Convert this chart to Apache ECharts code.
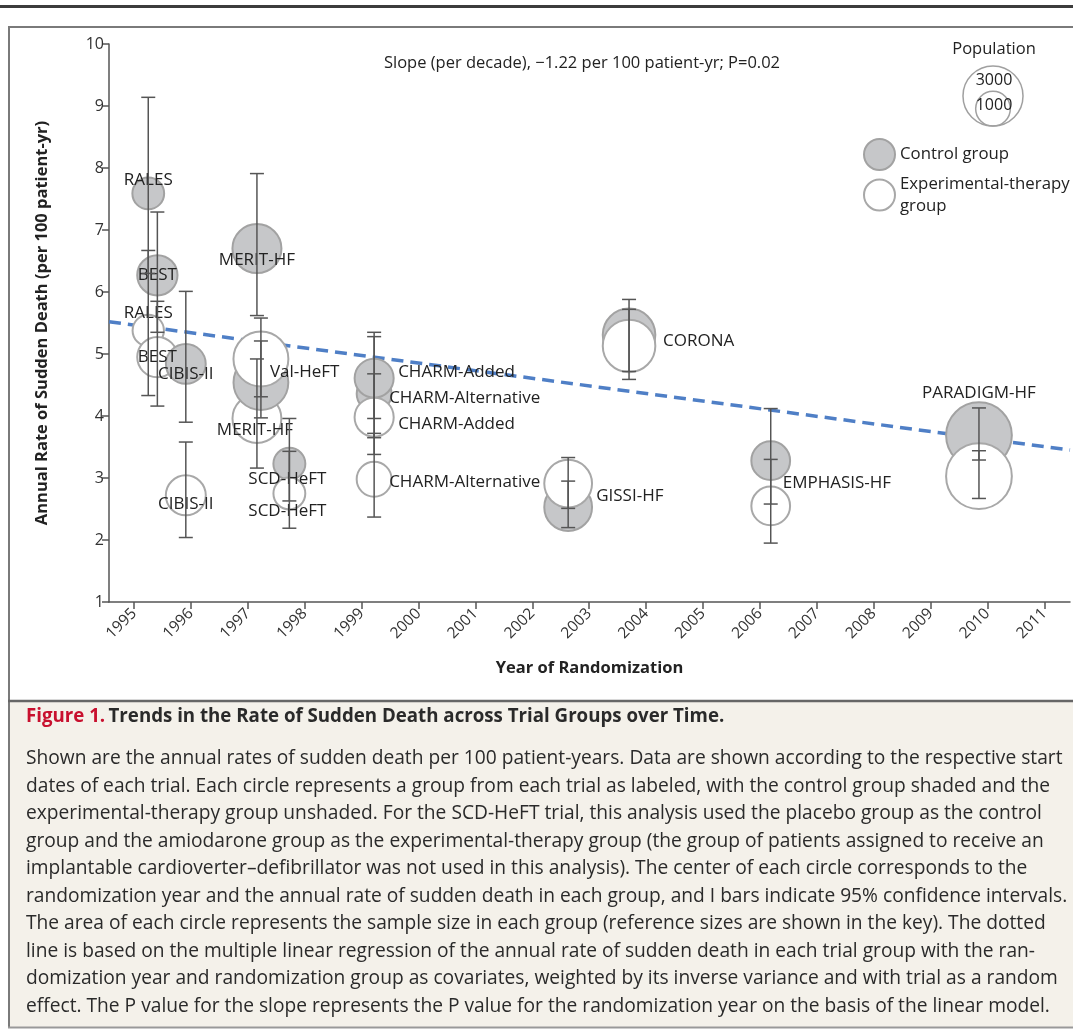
<!DOCTYPE html>
<html>
<head>
<meta charset="utf-8">
<script src="https://cdn.jsdelivr.net/npm/echarts@6.0.0/dist/echarts.min.js"></script>
<style>
html, body { margin: 0; padding: 0; background: #fff; }
#chart { width: 1073px; height: 1030px; }
</style>
</head>
<body>
<div id="chart"></div>
<script>
// trial groups, in drawing order
const trials = ['RALES', 'BEST', 'CIBIS-II', 'MERIT-HF', 'Val-HeFT', 'SCD-HeFT',
    'CHARM-Alternative', 'CHARM-Added', 'GISSI-HF', 'CORONA', 'EMPHASIS-HF', 'PARADIGM-HF'];
const years = [1995.25, 1995.41, 1995.91, 1997.16, 1997.23, 1997.73,
    1999.22, 1999.22, 2002.63, 2003.70, 2006.19, 2009.85];

// control group: rate, 95% CI, sample size
const controlRate = [7.59, 6.27, 4.84, 6.70, 4.54, 3.23, 4.36, 4.61, 2.53, 5.31, 3.28, 3.69];
const controlLow  = [6.30, 5.35, 3.90, 5.62, 3.97, 2.63, 3.65, 3.96, 2.20, 4.72, 2.58, 3.29];
const controlHigh = [9.14, 7.29, 6.01, 7.91, 5.21, 3.96, 5.28, 5.35, 2.95, 5.88, 4.12, 4.13];
const controlN    = [840, 1350, 1320, 2000, 2500, 850, 1015, 1270, 1900, 2300, 1250, 3600];

// experimental-therapy group
const expRate = [5.38, 4.95, 2.72, 3.96, 4.92, 2.75, 2.98, 3.98, 2.91, 5.13, 2.55, 3.03];
const expLow  = [4.33, 4.16, 2.04, 3.16, 4.31, 2.19, 2.37, 3.38, 2.51, 4.59, 1.95, 2.67];
const expHigh = [6.67, 5.85, 3.58, 4.92, 5.58, 3.43, 3.72, 4.68, 3.33, 5.72, 3.30, 3.44];
const expN    = [820, 1350, 1330, 1990, 2510, 845, 1015, 1275, 1900, 2300, 1250, 3600];

// weighted regression line (end points)
const trendYears = [1994.56, 2011.45];
const trendRates = [5.52, 3.45];

const yearTicks = [1995, 1996, 1997, 1998, 1999, 2000, 2001, 2002, 2003,
    2004, 2005, 2006, 2007, 2008, 2009, 2010, 2011];
const popKey = [3000, 1000];

// label placement [dx, dy, align]; null = no label
const ctrlLabel = [[0, -13, 'center'], [0, 0, 'center'], [0, 10, 'center'], [0, 12, 'center'],
    [9, -10, 'left'], [-2, 15, 'center'], [15, 4, 'left'], [24, -6, 'left'],
    [28, -11, 'left'], [34, 6, 'left'], [12, 23, 'left'], [0, -42, 'center']];
const expLabel = [[0, -17, 'center'], [0, 0, 'center'], [0, 9, 'center'], [-2, 12, 'center'],
    null, [-2, 18, 'center'], [15, 3, 'left'], [24, 7, 'left'], null, null, null, null];

const captionLines = [
    'Shown are the annual rates of sudden death per 100 patient-years. Data are shown according to the respective start',
    'dates of each trial. Each circle represents a group from each trial as labeled, with the control group shaded and the',
    'experimental-therapy group unshaded. For the SCD-HeFT trial, this analysis used the placebo group as the control',
    'group and the amiodarone group as the experimental-therapy group (the group of patients assigned to receive an',
    'implantable cardioverter\u2013defibrillator was not used in this analysis). The center of each circle corresponds to the',
    'randomization year and the annual rate of sudden death in each group, and I bars indicate 95% confidence intervals.',
    'The area of each circle represents the sample size in each group (reference sizes are shown in the key). The dotted',
    'line is based on the multiple linear regression of the annual rate of sudden death in each trial group with the ran-',
    'domization year and randomization group as covariates, weighted by its inverse variance and with trial as a random',
    'effect. The P value for the slope represents the P value for the randomization year on the basis of the linear model.'
];

const FONT = '"Open Sans", "Noto Sans", sans-serif';
const CTRL = 'Control group';
const EXP = 'Experimental-therapy group';

// circle area proportional to sample size
function diam(n) { return 1.096 * Math.sqrt(n); }

function groupSeries(name, i, rate, n, lab, fill, border) {
    return {
        type: 'scatter',
        name: name,
        z: 2,
        symbolSize: d => diam(d[2]),
        itemStyle: { color: fill, borderColor: border, borderWidth: 2, opacity: 1 },
        emphasis: { disabled: true },
        label: lab ? {
            show: true,
            position: 'inside',
            align: lab[2],
            offset: [lab[0], lab[1]],
            formatter: trials[i],
            color: '#222',
            fontFamily: FONT,
            fontSize: 17
        } : { show: false },
        data: [[years[i], rate, n]]
    };
}

function renderBar(params, api) {
    const x = api.value(0);
    const lo = api.coord([x, api.value(1)]);
    const hi = api.coord([x, api.value(2)]);
    const cap = 7;
    const style = { stroke: '#555', lineWidth: 1.5 };
    return {
        type: 'group',
        children: [
            { type: 'line', shape: { x1: lo[0], y1: lo[1], x2: hi[0], y2: hi[1] }, style: style },
            { type: 'line', shape: { x1: lo[0] - cap, y1: lo[1], x2: lo[0] + cap, y2: lo[1] }, style: style },
            { type: 'line', shape: { x1: hi[0] - cap, y1: hi[1], x2: hi[0] + cap, y2: hi[1] }, style: style }
        ]
    };
}

const series = [{
    type: 'line',
    z: 1,
    symbol: 'none',
    silent: true,
    lineStyle: { color: '#4f7fc6', width: 3.5, type: [12, 7] },
    data: trendYears.map((y, i) => [y, trendRates[i]])
}];
trials.forEach((t, i) => {
    series.push(groupSeries(CTRL, i, controlRate[i], controlN[i], ctrlLabel[i], '#c6c7c9', '#a2a2a2'));
    series.push(groupSeries(EXP, i, expRate[i], expN[i], expLabel[i], '#ffffff', '#a8a8a8'));
});
const bars = [];
trials.forEach((t, i) => {
    bars.push([years[i], controlLow[i], controlHigh[i]]);
    bars.push([years[i], expLow[i], expHigh[i]]);
});
series.push({
    type: 'custom',
    z: 5,
    silent: true,
    renderItem: renderBar,
    encode: { x: 0, y: [1, 2] },
    data: bars
});

// population key circles (bottom aligned)
const keyCx = 993, keyBottom = 126;
const keyGraphics = [];
popKey.forEach(n => {
    const r = diam(n) / 2;
    keyGraphics.push({
        type: 'circle', shape: { cx: keyCx, cy: keyBottom - r, r: r },
        style: { fill: 'none', stroke: '#a0a0a0', lineWidth: 1.5 }
    });
});

const myChart = echarts.init(document.getElementById('chart'), null, { renderer: 'canvas' });
const option = {
    animation: false,
    backgroundColor: '#fff',
    grid: { left: 109, right: 3, top: 44, bottom: 428, containLabel: false },
    xAxis: {
        type: 'value',
        min: 1994.56,
        max: 2011.45,
        name: 'Year of Randomization',
        nameLocation: 'middle',
        nameGap: 58,
        nameTextStyle: { fontFamily: FONT, fontWeight: 'bold', fontSize: 16.5, color: '#222' },
        axisLine: { lineStyle: { color: '#555', width: 1.5 } },
        axisTick: { customValues: yearTicks, length: 7, lineStyle: { color: '#555', width: 1.5 } },
        axisLabel: {
            customValues: yearTicks, rotate: 45, margin: 9,
            fontFamily: FONT, fontSize: 15.5, color: '#333',
            formatter: v => String(v)
        },
        splitLine: { show: false }
    },
    yAxis: {
        type: 'value',
        min: 1,
        max: 10,
        interval: 1,
        name: 'Annual Rate of Sudden Death (per 100 patient-yr)',
        nameLocation: 'middle',
        nameGap: 58,
        nameTextStyle: { fontFamily: FONT, fontWeight: 'bold', fontSize: 16.5, color: '#222' },
        axisLine: { show: true, lineStyle: { color: '#555', width: 1.5 } },
        axisTick: { show: true, length: 7, lineStyle: { color: '#555', width: 1.5 } },
        axisLabel: { margin: 5, fontFamily: FONT, fontSize: 16, color: '#333' },
        splitLine: { show: false }
    },
    legend: {
        data: [CTRL, EXP],
        orient: 'vertical',
        left: 858,
        top: 133,
        icon: 'circle',
        itemWidth: 31,
        itemHeight: 31,
        itemGap: 2,
        selectedMode: false,
        formatter: n => n === EXP ? 'Experimental-therapy\ngroup' : n,
        textStyle: { fontFamily: FONT, fontSize: 16.8, color: '#222', lineHeight: 22 }
    },
    graphic: [
        { type: 'rect', shape: { x: 0, y: 5, width: 1073, height: 3 }, style: { fill: '#3c3c3c' } },
        { type: 'line', shape: { x1: 8, y1: 27, x2: 1073, y2: 27 }, style: { stroke: '#7a7a7a', lineWidth: 2 } },
        { type: 'line', shape: { x1: 9, y1: 26, x2: 9, y2: 1028 }, style: { stroke: '#7a7a7a', lineWidth: 2 } },
        { type: 'rect', shape: { x: 10, y: 701, width: 1063, height: 326 }, style: { fill: '#f4f1ea' } },
        { type: 'line', shape: { x1: 8, y1: 701, x2: 1073, y2: 701 }, style: { stroke: '#666', lineWidth: 2.5 } },
        { type: 'line', shape: { x1: 8, y1: 1027.5, x2: 1073, y2: 1027.5 }, style: { stroke: '#999', lineWidth: 2 } },
        {
            type: 'text', x: 582, y: 63,
            style: {
                text: 'Slope (per decade), \u22121.22 per 100 patient-yr; P=0.02',
                fontFamily: FONT, fontSize: 16.5, fill: '#222', align: 'center', verticalAlign: 'middle'
            }
        },
        {
            type: 'text', x: 994, y: 49,
            style: { text: 'Population', fontFamily: FONT, fontSize: 16.5, fill: '#222', align: 'center', verticalAlign: 'middle' }
        },
        ...keyGraphics,
        {
            type: 'text', x: 994, y: 80,
            style: { text: String(popKey[0]), fontFamily: FONT, fontSize: 16, fill: '#222', align: 'center', verticalAlign: 'middle' }
        },
        {
            type: 'text', x: 994, y: 105,
            style: { text: String(popKey[1]), fontFamily: FONT, fontSize: 16, fill: '#222', align: 'center', verticalAlign: 'middle' }
        },
        {
            type: 'text', x: 26, y: 717,
            style: {
                text: '{r|Figure 1.} {b|Trends in the Rate of Sudden Death across Trial Groups over Time.}',
                verticalAlign: 'middle',
                rich: {
                    r: { fontFamily: FONT, fontWeight: 'bold', fontSize: 18.7, fill: '#c8102e' },
                    b: { fontFamily: FONT, fontWeight: 'bold', fontSize: 18.7, fill: '#2a2a2a' }
                }
            }
        },
        {
            type: 'text', x: 26, y: 745,
            style: {
                text: captionLines.join('\n'),
                fontFamily: FONT, fontSize: 19.2, lineHeight: 27.5, fill: '#2a2a2a'
            }
        }
    ],
    series: series
};
myChart.setOption(option);
</script>
</body>
</html>
